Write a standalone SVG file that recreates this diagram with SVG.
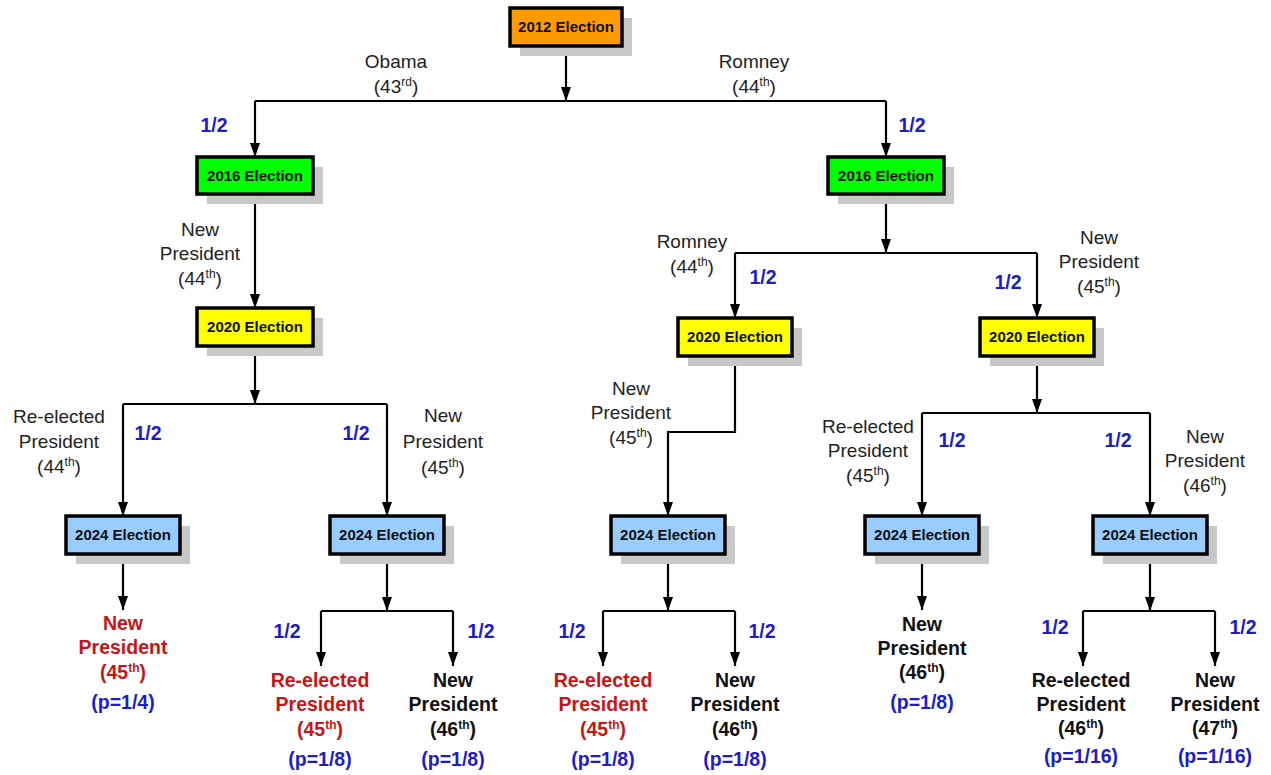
<svg xmlns="http://www.w3.org/2000/svg" width="1271" height="775" viewBox="0 0 1271 775">
<style>
.sh{fill:#c8c8c8}
.bx{stroke:#000;stroke-width:3.5}
.bt{font-family:"Liberation Sans",Arial,sans-serif;font-weight:bold;font-size:15px;fill:#111;text-anchor:middle}
.lb{font-family:"Liberation Sans",Arial,sans-serif;font-size:19px;fill:#222;text-anchor:middle}
.pr{font-family:"Liberation Sans",Arial,sans-serif;font-weight:bold;font-size:19.5px;fill:#1c1ccc;text-anchor:middle}
.lf{font-family:"Liberation Sans",Arial,sans-serif;font-weight:bold;font-size:19.5px;fill:#111;text-anchor:middle}
.red{fill:#c81414}
.sup{font-size:12px}
.cn path{fill:none;stroke:#000;stroke-width:2.2}
.ar{marker-end:url(#ah)}
</style>
<defs>
<marker id="ah" viewBox="0 0 14 10" refX="14" refY="5" markerWidth="14" markerHeight="10" markerUnits="userSpaceOnUse" orient="auto">
<path d="M0,0 L14,5 L0,10 z" fill="#000"/>
</marker>
</defs>
<rect width="1271" height="775" fill="#fff"/>

<g id="connectors" class="cn">
<path class="ar" d="M566,46 V101"/>
<path d="M255,101 H886"/>
<path class="ar" d="M255,101 V157"/>
<path class="ar" d="M886,101 V157"/>
<path class="ar" d="M255,194 V308"/>
<path class="ar" d="M255,346 V404"/>
<path d="M123,404 H387"/>
<path class="ar" d="M123,404 V516"/>
<path class="ar" d="M387,404 V516"/>
<path class="ar" d="M123,554 V610"/>
<path class="ar" d="M387,554 V611"/>
<path d="M321,611 H453"/>
<path class="ar" d="M321,611 V666"/>
<path class="ar" d="M453,611 V666"/>
<path class="ar" d="M886,194 V253"/>
<path d="M735,253 H1037"/>
<path class="ar" d="M735,253 V318"/>
<path class="ar" d="M1037,253 V318"/>
<path class="ar" d="M735,356 V432 H668 V516"/>
<path class="ar" d="M668,554 V611"/>
<path d="M603,611 H735"/>
<path class="ar" d="M603,611 V666"/>
<path class="ar" d="M735,611 V666"/>
<path class="ar" d="M1037,356 V413"/>
<path d="M922,413 H1150"/>
<path class="ar" d="M922,413 V516"/>
<path class="ar" d="M1150,413 V516"/>
<path class="ar" d="M922,554 V610"/>
<path class="ar" d="M1150,554 V611"/>
<path d="M1083,611 H1215"/>
<path class="ar" d="M1083,611 V666"/>
<path class="ar" d="M1215,611 V666"/>
</g>

<g id="n2012">
<rect class="sh" x="520" y="18" width="112" height="38"/>
<rect class="bx" x="510" y="8" width="112" height="38" fill="#ff9a00"/>
<text class="bt" x="566" y="32">2012 Election</text>
</g>
<g id="n2016a">
<rect class="sh" x="207" y="167" width="116" height="37"/>
<rect class="bx" x="197" y="157" width="116" height="37" fill="#00ff00"/>
<text class="bt" x="255" y="181">2016 Election</text>
</g>
<g id="n2016b">
<rect class="sh" x="838" y="167" width="116" height="37"/>
<rect class="bx" x="828" y="157" width="116" height="37" fill="#00ff00"/>
<text class="bt" x="886" y="181">2016 Election</text>
</g>
<g id="n2020a">
<rect class="sh" x="207" y="318" width="116" height="38"/>
<rect class="bx" x="197" y="308" width="116" height="38" fill="#ffff00"/>
<text class="bt" x="255" y="332">2020 Election</text>
</g>
<g id="n2020b">
<rect class="sh" x="688" y="328" width="114" height="38"/>
<rect class="bx" x="678" y="318" width="114" height="38" fill="#ffff00"/>
<text class="bt" x="735" y="342">2020 Election</text>
</g>
<g id="n2020c">
<rect class="sh" x="990" y="328" width="114" height="38"/>
<rect class="bx" x="980" y="318" width="114" height="38" fill="#ffff00"/>
<text class="bt" x="1037" y="342">2020 Election</text>
</g>
<g id="n2024a">
<rect class="sh" x="76" y="526" width="114" height="38"/>
<rect class="bx" x="66" y="516" width="114" height="38" fill="#99ccff"/>
<text class="bt" x="123" y="540">2024 Election</text>
</g>
<g id="n2024b">
<rect class="sh" x="340" y="526" width="114" height="38"/>
<rect class="bx" x="330" y="516" width="114" height="38" fill="#99ccff"/>
<text class="bt" x="387" y="540">2024 Election</text>
</g>
<g id="n2024c">
<rect class="sh" x="621" y="526" width="114" height="38"/>
<rect class="bx" x="611" y="516" width="114" height="38" fill="#99ccff"/>
<text class="bt" x="668" y="540">2024 Election</text>
</g>
<g id="n2024d">
<rect class="sh" x="875" y="526" width="114" height="38"/>
<rect class="bx" x="865" y="516" width="114" height="38" fill="#99ccff"/>
<text class="bt" x="922" y="540">2024 Election</text>
</g>
<g id="n2024e">
<rect class="sh" x="1103" y="526" width="114" height="38"/>
<rect class="bx" x="1093" y="516" width="114" height="38" fill="#99ccff"/>
<text class="bt" x="1150" y="540">2024 Election</text>
</g>

<g id="edge-labels">
<text class="lb" x="396" y="68">Obama</text>
<text class="lb" x="396" y="93">(43<tspan class="sup" dy="-7">rd</tspan><tspan dy="7">)</tspan></text>
<text class="lb" x="754" y="68">Romney</text>
<text class="lb" x="754" y="93">(44<tspan class="sup" dy="-7">th</tspan><tspan dy="7">)</tspan></text>
<text class="pr" x="214" y="132">1/2</text>
<text class="pr" x="912" y="132">1/2</text>

<text class="lb" x="200" y="236">New</text>
<text class="lb" x="200" y="260">President</text>
<text class="lb" x="200" y="285">(44<tspan class="sup" dy="-7">th</tspan><tspan dy="7">)</tspan></text>

<text class="lb" x="692" y="248">Romney</text>
<text class="lb" x="692" y="273">(44<tspan class="sup" dy="-7">th</tspan><tspan dy="7">)</tspan></text>
<text class="pr" x="763" y="284">1/2</text>
<text class="pr" x="1008" y="289">1/2</text>
<text class="lb" x="1099" y="244">New</text>
<text class="lb" x="1099" y="268">President</text>
<text class="lb" x="1099" y="293">(45<tspan class="sup" dy="-7">th</tspan><tspan dy="7">)</tspan></text>

<text class="lb" x="59" y="423">Re-elected</text>
<text class="lb" x="59" y="448">President</text>
<text class="lb" x="59" y="473">(44<tspan class="sup" dy="-7">th</tspan><tspan dy="7">)</tspan></text>
<text class="pr" x="148" y="440">1/2</text>
<text class="pr" x="356" y="440">1/2</text>
<text class="lb" x="443" y="422">New</text>
<text class="lb" x="443" y="448">President</text>
<text class="lb" x="443" y="474">(45<tspan class="sup" dy="-7">th</tspan><tspan dy="7">)</tspan></text>

<text class="lb" x="631" y="395">New</text>
<text class="lb" x="631" y="419">President</text>
<text class="lb" x="631" y="444">(45<tspan class="sup" dy="-7">th</tspan><tspan dy="7">)</tspan></text>

<text class="lb" x="868" y="433">Re-elected</text>
<text class="lb" x="868" y="457">President</text>
<text class="lb" x="868" y="482">(45<tspan class="sup" dy="-7">th</tspan><tspan dy="7">)</tspan></text>
<text class="pr" x="952" y="447">1/2</text>
<text class="pr" x="1118" y="447">1/2</text>
<text class="lb" x="1205" y="443">New</text>
<text class="lb" x="1205" y="467">President</text>
<text class="lb" x="1205" y="492">(46<tspan class="sup" dy="-7">th</tspan><tspan dy="7">)</tspan></text>

<text class="pr" x="287" y="638">1/2</text>
<text class="pr" x="481" y="638">1/2</text>
<text class="pr" x="572" y="638">1/2</text>
<text class="pr" x="762" y="638">1/2</text>
<text class="pr" x="1055" y="634">1/2</text>
<text class="pr" x="1243" y="634">1/2</text>
</g>

<g id="leaf1">
<text class="lf red" x="123" y="630">New</text>
<text class="lf red" x="123" y="654">President</text>
<text class="lf red" x="123" y="679">(45<tspan class="sup" dy="-7">th</tspan><tspan dy="7">)</tspan></text>
<text class="pr" x="123" y="709">(p=1/4)</text>
</g>
<g id="leaf2">
<text class="lf red" x="320" y="687">Re-elected</text>
<text class="lf red" x="320" y="711">President</text>
<text class="lf red" x="320" y="736">(45<tspan class="sup" dy="-7">th</tspan><tspan dy="7">)</tspan></text>
<text class="pr" x="320" y="766">(p=1/8)</text>
</g>
<g id="leaf3">
<text class="lf" x="453" y="687">New</text>
<text class="lf" x="453" y="711">President</text>
<text class="lf" x="453" y="736">(46<tspan class="sup" dy="-7">th</tspan><tspan dy="7">)</tspan></text>
<text class="pr" x="453" y="766">(p=1/8)</text>
</g>
<g id="leaf4">
<text class="lf red" x="603" y="687">Re-elected</text>
<text class="lf red" x="603" y="711">President</text>
<text class="lf red" x="603" y="736">(45<tspan class="sup" dy="-7">th</tspan><tspan dy="7">)</tspan></text>
<text class="pr" x="603" y="766">(p=1/8)</text>
</g>
<g id="leaf5">
<text class="lf" x="735" y="687">New</text>
<text class="lf" x="735" y="711">President</text>
<text class="lf" x="735" y="736">(46<tspan class="sup" dy="-7">th</tspan><tspan dy="7">)</tspan></text>
<text class="pr" x="735" y="766">(p=1/8)</text>
</g>
<g id="leaf6">
<text class="lf" x="922" y="631">New</text>
<text class="lf" x="922" y="655">President</text>
<text class="lf" x="922" y="679">(46<tspan class="sup" dy="-7">th</tspan><tspan dy="7">)</tspan></text>
<text class="pr" x="922" y="709">(p=1/8)</text>
</g>
<g id="leaf7">
<text class="lf" x="1081" y="687">Re-elected</text>
<text class="lf" x="1081" y="711">President</text>
<text class="lf" x="1081" y="735">(46<tspan class="sup" dy="-7">th</tspan><tspan dy="7">)</tspan></text>
<text class="pr" x="1081" y="763">(p=1/16)</text>
</g>
<g id="leaf8">
<text class="lf" x="1215" y="687">New</text>
<text class="lf" x="1215" y="711">President</text>
<text class="lf" x="1215" y="735">(47<tspan class="sup" dy="-7">th</tspan><tspan dy="7">)</tspan></text>
<text class="pr" x="1215" y="763">(p=1/16)</text>
</g>
</svg>
